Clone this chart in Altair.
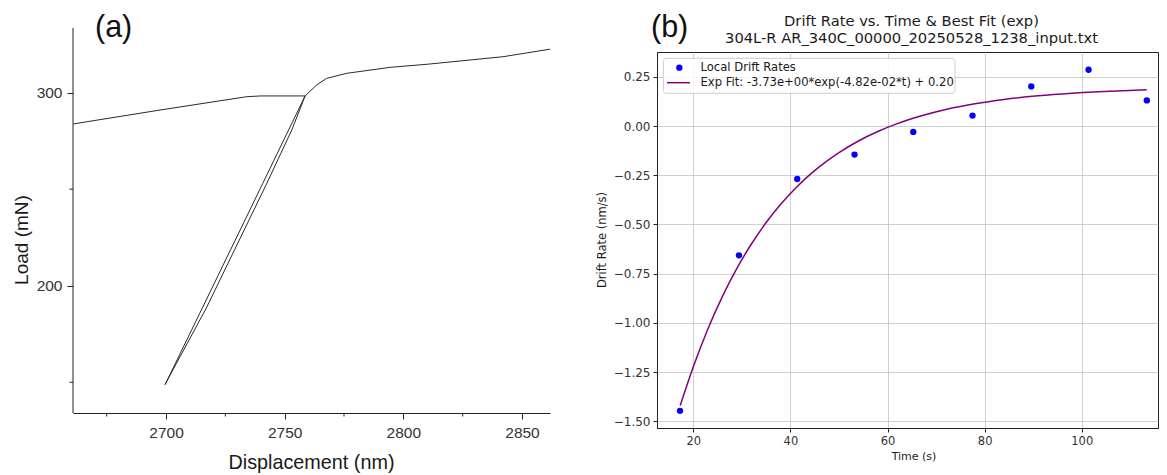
import altair as alt
import pandas as pd

# ---------------- Panel (a): load-displacement ----------------
disp_a = [2660.9, 2697.5, 2734.0, 2740.0, 2758.6, 2740.8, 2715.3, 2699.6,
          2700.3, 2717.0, 2742.5, 2753.0, 2758.6, 2763.5, 2767.7, 2776.1,
          2794.4, 2810.0, 2842.0, 2861.8]
load_a = [283.8, 291.0, 297.9, 298.3, 298.3, 253.1, 188.5, 148.8,
          150.5, 188.5, 253.1, 280.7, 298.3, 304.0, 307.4, 310.0,
          313.1, 314.7, 318.6, 322.5]
x_ticks_a = [2700, 2750, 2800, 2850]
x_minor_a = [2675, 2725, 2775, 2825]
y_ticks_a = [200, 300]
y_minor_a = [150, 250]

# ---------------- Panel (b): drift rate ----------------
time_pts = [17.26, 29.4, 41.4, 53.2, 65.3, 77.5, 89.6, 101.4, 113.4]
drift_pts = [-1.447, -0.657, -0.269, -0.145, -0.030, 0.053, 0.201, 0.286, 0.130]
fit_time = [17.3, 20, 23, 26, 29, 32, 35, 38, 41, 44, 47, 50, 54, 58, 62, 67,
            72, 78, 84, 91, 98, 106, 113.4]
fit_drift = [-1.420, -1.223, -1.031, -0.865, -0.722, -0.598, -0.490, -0.397,
             -0.317, -0.247, -0.187, -0.135, -0.076, -0.028, 0.012, 0.052,
             0.084, 0.113, 0.135, 0.154, 0.167, 0.177, 0.184]
x_ticks_b = [20, 40, 60, 80, 100]
y_ticks_b = [-1.5, -1.25, -1.0, -0.75, -0.5, -0.25, 0.0, 0.25]
legend_labels = ["Local Drift Rates", "Exp Fit: -3.73e+00*exp(-4.82e-02*t) + 0.20"]
title_b = ["Drift Rate vs. Time & Best Fit (exp)", "304L-R AR_340C_00000_20250528_1238_input.txt"]

one = pd.DataFrame({"k": [0]})


def txt(text, x, y, size, font, angle=0, align="left", baseline="alphabetic",
        color="#1a1a1a", line_height=None):
    kw = dict(align=align, baseline=baseline, fontSize=size, font=font, color=color)
    if angle:
        kw["angle"] = angle
    if line_height:
        kw["lineBreak"] = "\n"
        kw["lineHeight"] = line_height
    return alt.Chart(pd.DataFrame({"t": [text]})).mark_text(**kw).encode(
        text="t:N", x=alt.value(x), y=alt.value(y))


# ---- Panel (a) ----
WA, HA = 477, 361
FA = "Liberation Sans"
xa = alt.Scale(domain=[2660.8, 2861.8], nice=False, zero=False)
ya = alt.Scale(domain=[134.1, 321.05], nice=False, zero=False)
axis_xa = alt.Axis(values=x_ticks_a, format="d", title=None, grid=False, tickSize=6,
                   tickColor="#222", domainColor="#222", labelFont=FA,
                   labelFontSize=15.5, labelColor="#333", labelPadding=6)
axis_ya = alt.Axis(values=y_ticks_a, format="d", title=None, grid=False, domain=False,
                   tickSize=6, tickColor="#222", labelFont=FA, labelFontSize=15.5,
                   labelColor="#333", labelPadding=5)
df_a = pd.DataFrame({"disp": disp_a, "load": load_a, "i": list(range(len(disp_a)))})

line_a = alt.Chart(df_a).mark_line(color="#2a2a2a", strokeWidth=1).encode(
    x=alt.X("disp:Q", scale=xa, axis=axis_xa),
    y=alt.Y("load:Q", scale=ya, axis=axis_ya),
    order="i:Q")

minor_x = alt.Chart(pd.DataFrame({"disp": x_minor_a})).mark_rule(
    color="#222", strokeWidth=1).encode(
    x=alt.X("disp:Q", scale=xa, axis=axis_xa), y=alt.value(HA), y2=alt.value(HA + 3.5))
minor_y = alt.Chart(pd.DataFrame({"load": y_minor_a})).mark_rule(
    color="#222", strokeWidth=1).encode(
    y=alt.Y("load:Q", scale=ya, axis=axis_ya), x=alt.value(-3.5), x2=alt.value(0))
yaxis_line = alt.Chart(one).mark_rule(color="#222", strokeWidth=1).encode(
    x=alt.value(0), y=alt.value(-24), y2=alt.value(HA))
anchor = alt.Chart(one).mark_rule(strokeOpacity=0, strokeWidth=0).encode(
    x=alt.value(-65), x2=alt.value(-64), y=alt.value(-44), y2=alt.value(-44))

panel_a = alt.layer(
    line_a, minor_x, minor_y, yaxis_line, anchor,
    txt("(a)", 22, -15.5, 30.5, FA, color="#111"),
    txt("Load (mN)", -51, 188, 19, FA, angle=270, align="center", baseline="middle"),
    txt("Displacement (nm)", WA / 2, 417, 19.8, FA, align="center"),
).properties(width=WA, height=HA, view=alt.ViewBackground(stroke=None))

# ---- Panel (b) ----
WB, HB = 501, 376
FB = "DejaVu Sans"
xb = alt.Scale(domain=[12.52, 115.7], nice=False, zero=False)
yb = alt.Scale(domain=[-1.534, 0.376], nice=False, zero=False)

ax_common = dict(title=None, grid=True, gridColor="#c4c4c4", gridWidth=0.8,
                 tickSize=4, tickColor="#222", domainColor="#222",
                 labelFont=FB, labelColor="#333")
axis_xb = alt.Axis(values=x_ticks_b, format="d", labelPadding=3, labelFontSize=11.5,
                   **ax_common)
axis_yb = alt.Axis(values=y_ticks_b, format=".2f", labelPadding=3, labelFontSize=12,
                   **ax_common)

pts = alt.Chart(pd.DataFrame({"t": time_pts, "d": drift_pts})).mark_circle(
    color="#0000ff", size=40, opacity=1).encode(
    x=alt.X("t:Q", scale=xb, axis=axis_xb),
    y=alt.Y("d:Q", scale=yb, axis=axis_yb))
fit = alt.Chart(pd.DataFrame({"t": fit_time, "d": fit_drift})).mark_line(
    color="#800080", strokeWidth=1.5, interpolate="monotone").encode(
    x=alt.X("t:Q", scale=xb, axis=axis_xb), y=alt.Y("d:Q", scale=yb, axis=axis_yb))

leg_box = alt.Chart(one).mark_rect(
    fill="white", fillOpacity=0.85, stroke="#cccccc", strokeWidth=1, cornerRadius=3).encode(
    x=alt.value(6.3), x2=alt.value(298), y=alt.value(6.3), y2=alt.value(41.3))
leg_pt = alt.Chart(one).mark_circle(color="#0000ff", size=40, opacity=1).encode(
    x=alt.value(22.3), y=alt.value(15.7))
leg_ln = alt.Chart(one).mark_rule(color="#800080", strokeWidth=1.5).encode(
    x=alt.value(10), x2=alt.value(33), y=alt.value(30.7))

panel_b = alt.layer(
    pts, fit, leg_box, leg_pt, leg_ln,
    txt(legend_labels[0], 43.5, 15.7, 11.6, FB, baseline="middle"),
    txt(legend_labels[1], 43.5, 30.7, 11.6, FB, baseline="middle"),
    txt("\n".join(title_b), 254.5, -26.5, 14.7, FB, align="center", line_height=17.5),
    txt("(b)", -6, -15.5, 30.5, FA, color="#111"),
    txt("Drift Rate (nm/s)", -54.5, HB / 2, 11.5, FB, angle=270, align="center",
        baseline="middle"),
    txt("Time (s)", 257, 408, 11, FB, align="center"),
).properties(width=WB, height=HB,
             view=alt.ViewBackground(stroke="#222", strokeWidth=1))

chart = alt.concat(panel_a, panel_b, columns=2, spacing=107, bounds="flush",
                   align="each").properties(
    padding=0, background="white"
).configure_view(stroke=None)

chart.save("out.html", embed_options={"renderer": "svg", "actions": False})
